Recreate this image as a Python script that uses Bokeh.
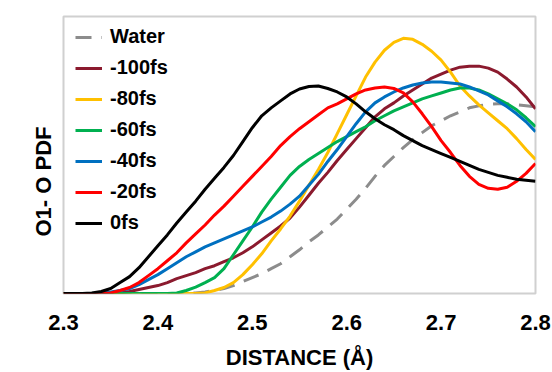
from bokeh.plotting import figure
from bokeh.models import Range1d, FixedTicker, Legend, LegendItem, Title
from bokeh.embed import file_html
from bokeh.resources import INLINE

# ---- data ----
distance = [2.30, 2.31, 2.32, 2.33, 2.34, 2.35, 2.36, 2.37, 2.38, 2.39,
            2.40, 2.41, 2.42, 2.43, 2.44, 2.45, 2.46, 2.47, 2.48, 2.49,
            2.50, 2.51, 2.52, 2.53, 2.54, 2.55, 2.56, 2.57, 2.58, 2.59,
            2.60, 2.61, 2.62, 2.63, 2.64, 2.65, 2.66, 2.67, 2.68, 2.69,
            2.70, 2.71, 2.72, 2.73, 2.74, 2.75, 2.76, 2.77, 2.78, 2.79, 2.80]

pdf_water = [0, 0, 0, 0, 0, 0, 0, 0, 0, 0, 0, 0, 0, 0,
             0.005, 0.015, 0.03, 0.05, 0.08, 0.12, 0.16, 0.20, 0.25, 0.30, 0.37,
             0.44, 0.52, 0.59, 0.67, 0.75, 0.85, 0.95, 1.06, 1.18, 1.29, 1.38,
             1.47, 1.55, 1.62, 1.69, 1.74, 1.79, 1.83, 1.87, 1.89, 1.905, 1.91,
             1.91, 1.90, 1.89, 1.88]

pdf_m100 = [0, 0, 0, 0, 0, 0,
            0.005, 0.02, 0.04, 0.06, 0.08, 0.11, 0.15, 0.18, 0.21, 0.25, 0.28,
            0.32, 0.36, 0.41, 0.47, 0.54, 0.61, 0.68, 0.76, 0.87, 0.99, 1.11,
            1.22, 1.34, 1.45, 1.56, 1.67, 1.78, 1.86, 1.92, 1.99, 2.05, 2.11,
            2.17, 2.21, 2.25, 2.28, 2.29, 2.29, 2.27, 2.23, 2.16, 2.08, 1.98, 1.86]

pdf_m80 = [0, 0, 0, 0, 0, 0, 0, 0, 0, 0, 0, 0, 0, 0, 0,
           0.005, 0.03, 0.06, 0.11, 0.19, 0.29, 0.40, 0.53, 0.65, 0.78, 0.93,
           1.09, 1.25, 1.42, 1.61, 1.80, 1.99, 2.18, 2.33, 2.45, 2.53, 2.57,
           2.56, 2.51, 2.44, 2.35, 2.23, 2.09, 1.99, 1.90, 1.82, 1.74, 1.66,
           1.56, 1.45, 1.35]

pdf_m60 = [0, 0, 0, 0, 0, 0, 0, 0, 0, 0, 0, 0,
           0.005, 0.03, 0.065, 0.11, 0.16, 0.25, 0.39, 0.53, 0.67, 0.82, 0.95,
           1.07, 1.19, 1.28, 1.35, 1.41, 1.47, 1.53, 1.58, 1.63, 1.68, 1.74,
           1.79, 1.84, 1.88, 1.92, 1.96, 1.99, 2.02, 2.05, 2.07, 2.07, 2.05,
           2.01, 1.96, 1.91, 1.85, 1.77, 1.68]

pdf_m40 = [0, 0, 0, 0, 0.005, 0.015, 0.03, 0.05, 0.09, 0.14, 0.19, 0.25,
           0.31, 0.37, 0.42, 0.47, 0.51, 0.55, 0.59, 0.63, 0.67, 0.72, 0.77,
           0.83, 0.90, 0.98, 1.09, 1.20, 1.33, 1.45, 1.58, 1.71, 1.83, 1.92,
           1.98, 2.03, 2.07, 2.10, 2.12, 2.13, 2.13, 2.12, 2.11, 2.08, 2.04,
           2.00, 1.94, 1.88, 1.81, 1.73, 1.63]

pdf_m20 = [0, 0, 0, 0, 0, 0.005, 0.03, 0.06, 0.11, 0.18, 0.25, 0.33, 0.41,
           0.51, 0.60, 0.69, 0.79, 0.88, 0.98, 1.08, 1.18, 1.28, 1.38, 1.49,
           1.58, 1.66, 1.73, 1.80, 1.87, 1.91, 1.96, 2.01, 2.05, 2.07, 2.08,
           2.065, 2.02, 1.93, 1.81, 1.68, 1.54, 1.42, 1.29, 1.18, 1.10, 1.06,
           1.05, 1.07, 1.13, 1.21, 1.31]

pdf_0 = [0, 0, 0, 0.005, 0.02, 0.05, 0.11, 0.17, 0.26, 0.37, 0.48, 0.59,
         0.71, 0.82, 0.93, 1.05, 1.16, 1.27, 1.39, 1.53, 1.67, 1.79, 1.87,
         1.94, 2.01, 2.06, 2.085, 2.09, 2.065, 2.03, 1.98, 1.91, 1.83, 1.76,
         1.70, 1.65, 1.59, 1.54, 1.49, 1.45, 1.41, 1.37, 1.33, 1.29, 1.25,
         1.22, 1.19, 1.17, 1.15, 1.14, 1.13]

x_ticks = [2.3, 2.4, 2.5, 2.6, 2.7, 2.8]
tick_labels = ["2.3", "2.4", "2.5", "2.6", "2.7", "2.8"]

series = [
    ("Water", pdf_water, "#8c8c8c", "dashed"),
    ("-100fs", pdf_m100, "#8b1a2e", "solid"),
    ("-80fs", pdf_m80, "#ffc000", "solid"),
    ("-60fs", pdf_m60, "#00b050", "solid"),
    ("-40fs", pdf_m40, "#0070c0", "solid"),
    ("-20fs", pdf_m20, "#ff0000", "solid"),
    ("0fs", pdf_0, "#000000", "solid"),
]

FONT = "Liberation Sans"

p = figure(width=552, height=372, output_backend="svg", toolbar_location=None,
           x_range=Range1d(2.3, 2.8), y_range=Range1d(0, 2.79),
           min_border_left=63, min_border_right=17, min_border_top=16, min_border_bottom=77)
p.background_fill_color = "white"
p.border_fill_color = "white"
p.outline_line_color = "#d0d0d0"
p.outline_line_width = 2
p.xgrid.visible = False
p.ygrid.visible = False
p.yaxis.visible = False

xa = p.xaxis[0]
xa.ticker = FixedTicker(ticks=x_ticks)
xa.major_label_overrides = {t: l for t, l in zip(x_ticks, tick_labels)}
xa.major_tick_line_color = None
xa.minor_tick_line_color = None
xa.axis_line_color = None
xa.major_label_text_font = FONT
xa.major_label_text_font_style = "bold"
xa.major_label_text_font_size = "22px"
xa.major_label_text_color = "black"
xa.major_label_standoff = 15
xa.axis_label = "DISTANCE (Å)"
xa.axis_label_text_font = FONT
xa.axis_label_text_font_style = "bold"
xa.axis_label_text_font_size = "22px"
xa.axis_label_text_color = "black"
xa.axis_label_standoff = 12

ytitle = Title(text="O1- O PDF", align="left", offset=57,
               text_font=FONT, text_font_style="bold", text_font_size="22px",
               text_color="black", standoff=16)
p.add_layout(ytitle, "left")

items = []
for name, ys, color, dash in series:
    if dash == "dashed":
        r = p.line(distance, ys, line_color=color, line_width=3, line_dash="16 10",
                   line_join="round")
    else:
        r = p.line(distance, ys, line_color=color, line_width=3, line_join="round")
    items.append(LegendItem(label=name, renderers=[r]))

legend = Legend(items=items, location=(12, 59), border_line_color=None,
                background_fill_alpha=0, label_text_font=FONT,
                label_text_font_style="bold", label_text_font_size="20px",
                label_text_color="black", glyph_width=27, glyph_height=20,
                label_height=20, spacing=8, padding=5, margin=0, label_standoff=8)
p.add_layout(legend, "center")

open("out.html", "w").write(file_html(p, INLINE))
